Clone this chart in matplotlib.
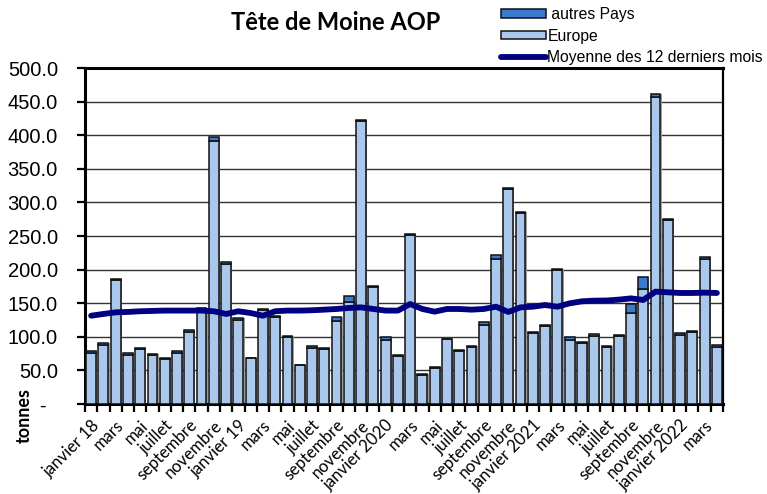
import matplotlib
matplotlib.use('Agg')
import matplotlib.pyplot as plt
import numpy as np

plt.rcParams['font.family'] = ['Liberation Sans', 'DejaVu Sans']

# données mensuelles (tonnes), janvier 2018 -> avril 2022
mois = ['janvier', 'février', 'mars', 'avril', 'mai', 'juin', 'juillet', 'août',
        'septembre', 'octobre', 'novembre', 'décembre']
annees = ['18', '19', '2020', '2021', '2022']

europe = [75.4, 88.5, 184.0, 72.4, 81.5, 72.5, 67.0, 75.4, 107.0, 141.5, 392.0, 208.0,
          125.0, 67.8, 139.5, 129.0, 99.8, 57.3, 83.3, 82.0, 123.0, 151.8, 421.0, 173.8,
          95.2, 72.0, 251.8, 43.5, 53.5, 96.0, 78.8, 84.3, 118.0, 215.8, 319.4, 283.8,
          105.3, 116.7, 199.5, 95.7, 91.5, 101.0, 84.6, 101.3, 135.4, 171.6, 456.3, 273.5,
          103.2, 107.8, 215.8, 85.3]
autres = [3.0, 1.8, 2.0, 3.5, 1.8, 1.4, 1.5, 3.5, 3.0, 1.4, 5.0, 3.0,
          3.5, 1.2, 2.0, 1.5, 1.2, 1.2, 3.5, 1.3, 6.0, 9.4, 2.0, 1.3,
          4.0, 1.4, 1.2, 1.1, 1.1, 1.2, 1.1, 1.5, 3.5, 6.4, 2.6, 1.2,
          1.3, 1.3, 1.4, 3.5, 1.3, 2.7, 1.2, 1.4, 13.4, 17.9, 5.0, 1.3,
          2.5, 1.3, 3.0, 3.0]
moyenne = [131.4, 134.0, 136.4, 137.0, 138.0, 138.5, 139.0, 139.0, 139.0, 139.0, 138.0, 134.0,
           138.0, 135.4, 131.4, 138.0, 139.0, 139.0, 139.5, 140.4, 141.4, 142.9, 143.8, 141.4,
           139.0, 139.0, 148.8, 141.4, 137.4, 141.4, 141.4, 140.4, 141.4, 144.8, 137.0, 143.8,
           144.8, 147.3, 144.8, 149.8, 152.8, 153.8, 154.0, 155.3, 157.2, 154.8, 167.2, 166.2,
           165.2, 165.2, 165.7, 165.2]

n = len(europe)
labels = []
for i in range(n):
    m = mois[i % 12]
    if i % 12 == 0:
        m = m + ' ' + annees[i // 12]
    labels.append(m)

x = np.arange(n)

fig = plt.figure(figsize=(7.67, 4.94), dpi=100)
ax = fig.add_axes([85 / 767, 1 - 404 / 494, 638 / 767, 336 / 494])

# ombre grise des barres
tot = np.array(europe) + np.array(autres)
ax.bar(x + 0.1, tot, width=0.8, color='#9a9a9a', edgecolor='none', zorder=2)
b1 = ax.bar(x, europe, width=0.8, color='#a9c8ec', edgecolor='#111111', linewidth=1.1,
            zorder=3, label='Europe')
b2 = ax.bar(x, autres, width=0.8, bottom=europe, color='#3a7bd0', edgecolor='#111111',
            linewidth=1.1, zorder=3, label=' autres Pays')
l1, = ax.plot(x, moyenne, color='#000080', linewidth=4.2, solid_capstyle='round',
              solid_joinstyle='round', zorder=4, label='Moyenne des 12 derniers mois')

ax.set_xlim(-0.5, n - 0.5)
ax.set_ylim(0, 500)
yt = np.arange(0, 501, 50)
ax.set_yticks(yt)
ax.set_yticklabels(['-  '] + ['%.1f' % v for v in yt[1:]], fontsize=14.5)
ax.yaxis.grid(True, color='#333333', linewidth=1.0, zorder=0)
ax.set_axisbelow(True)
ax.tick_params(axis='y', direction='out', length=6, width=1.6, pad=13.5)

ax.set_xticks(x[::2])
ax.set_xticklabels(labels[::2], rotation=45, ha='right', rotation_mode='anchor',
                   fontsize=12, family=['Lato', 'DejaVu Sans'])
ax.set_xticks(np.arange(-0.5, n, 1), minor=True)
ax.tick_params(axis='x', which='major', length=0, pad=9.5)
ax.tick_params(axis='x', which='minor', direction='out', length=6, width=1.6)

for s in ['left', 'bottom', 'top']:
    ax.spines[s].set_linewidth(2.2)
ax.spines['right'].set_linewidth(1.6)

fig.text(336 / 767, 1 - 22 / 494, 'Tête de Moine AOP', ha='center', va='center',
         fontsize=17, fontweight='bold', family=['Lato', 'DejaVu Sans'])
fig.text(24 / 767, 1 - 415 / 494, 'tonnes', rotation=90, ha='center', va='center',
         fontsize=13, fontweight='bold', family=['Lato', 'DejaVu Sans'])

fig.legend([b2, b1, l1], [' autres Pays', 'Europe', 'Moyenne des 12 derniers mois'],
           loc='upper left', bbox_to_anchor=(490 / 767, 1 + 4 / 494), frameon=False,
           fontsize=11.3, handlelength=2.85, handleheight=0.5, handletextpad=0.1,
           labelspacing=0.42, borderpad=0.2)

fig.savefig('out.png', dpi=100)
